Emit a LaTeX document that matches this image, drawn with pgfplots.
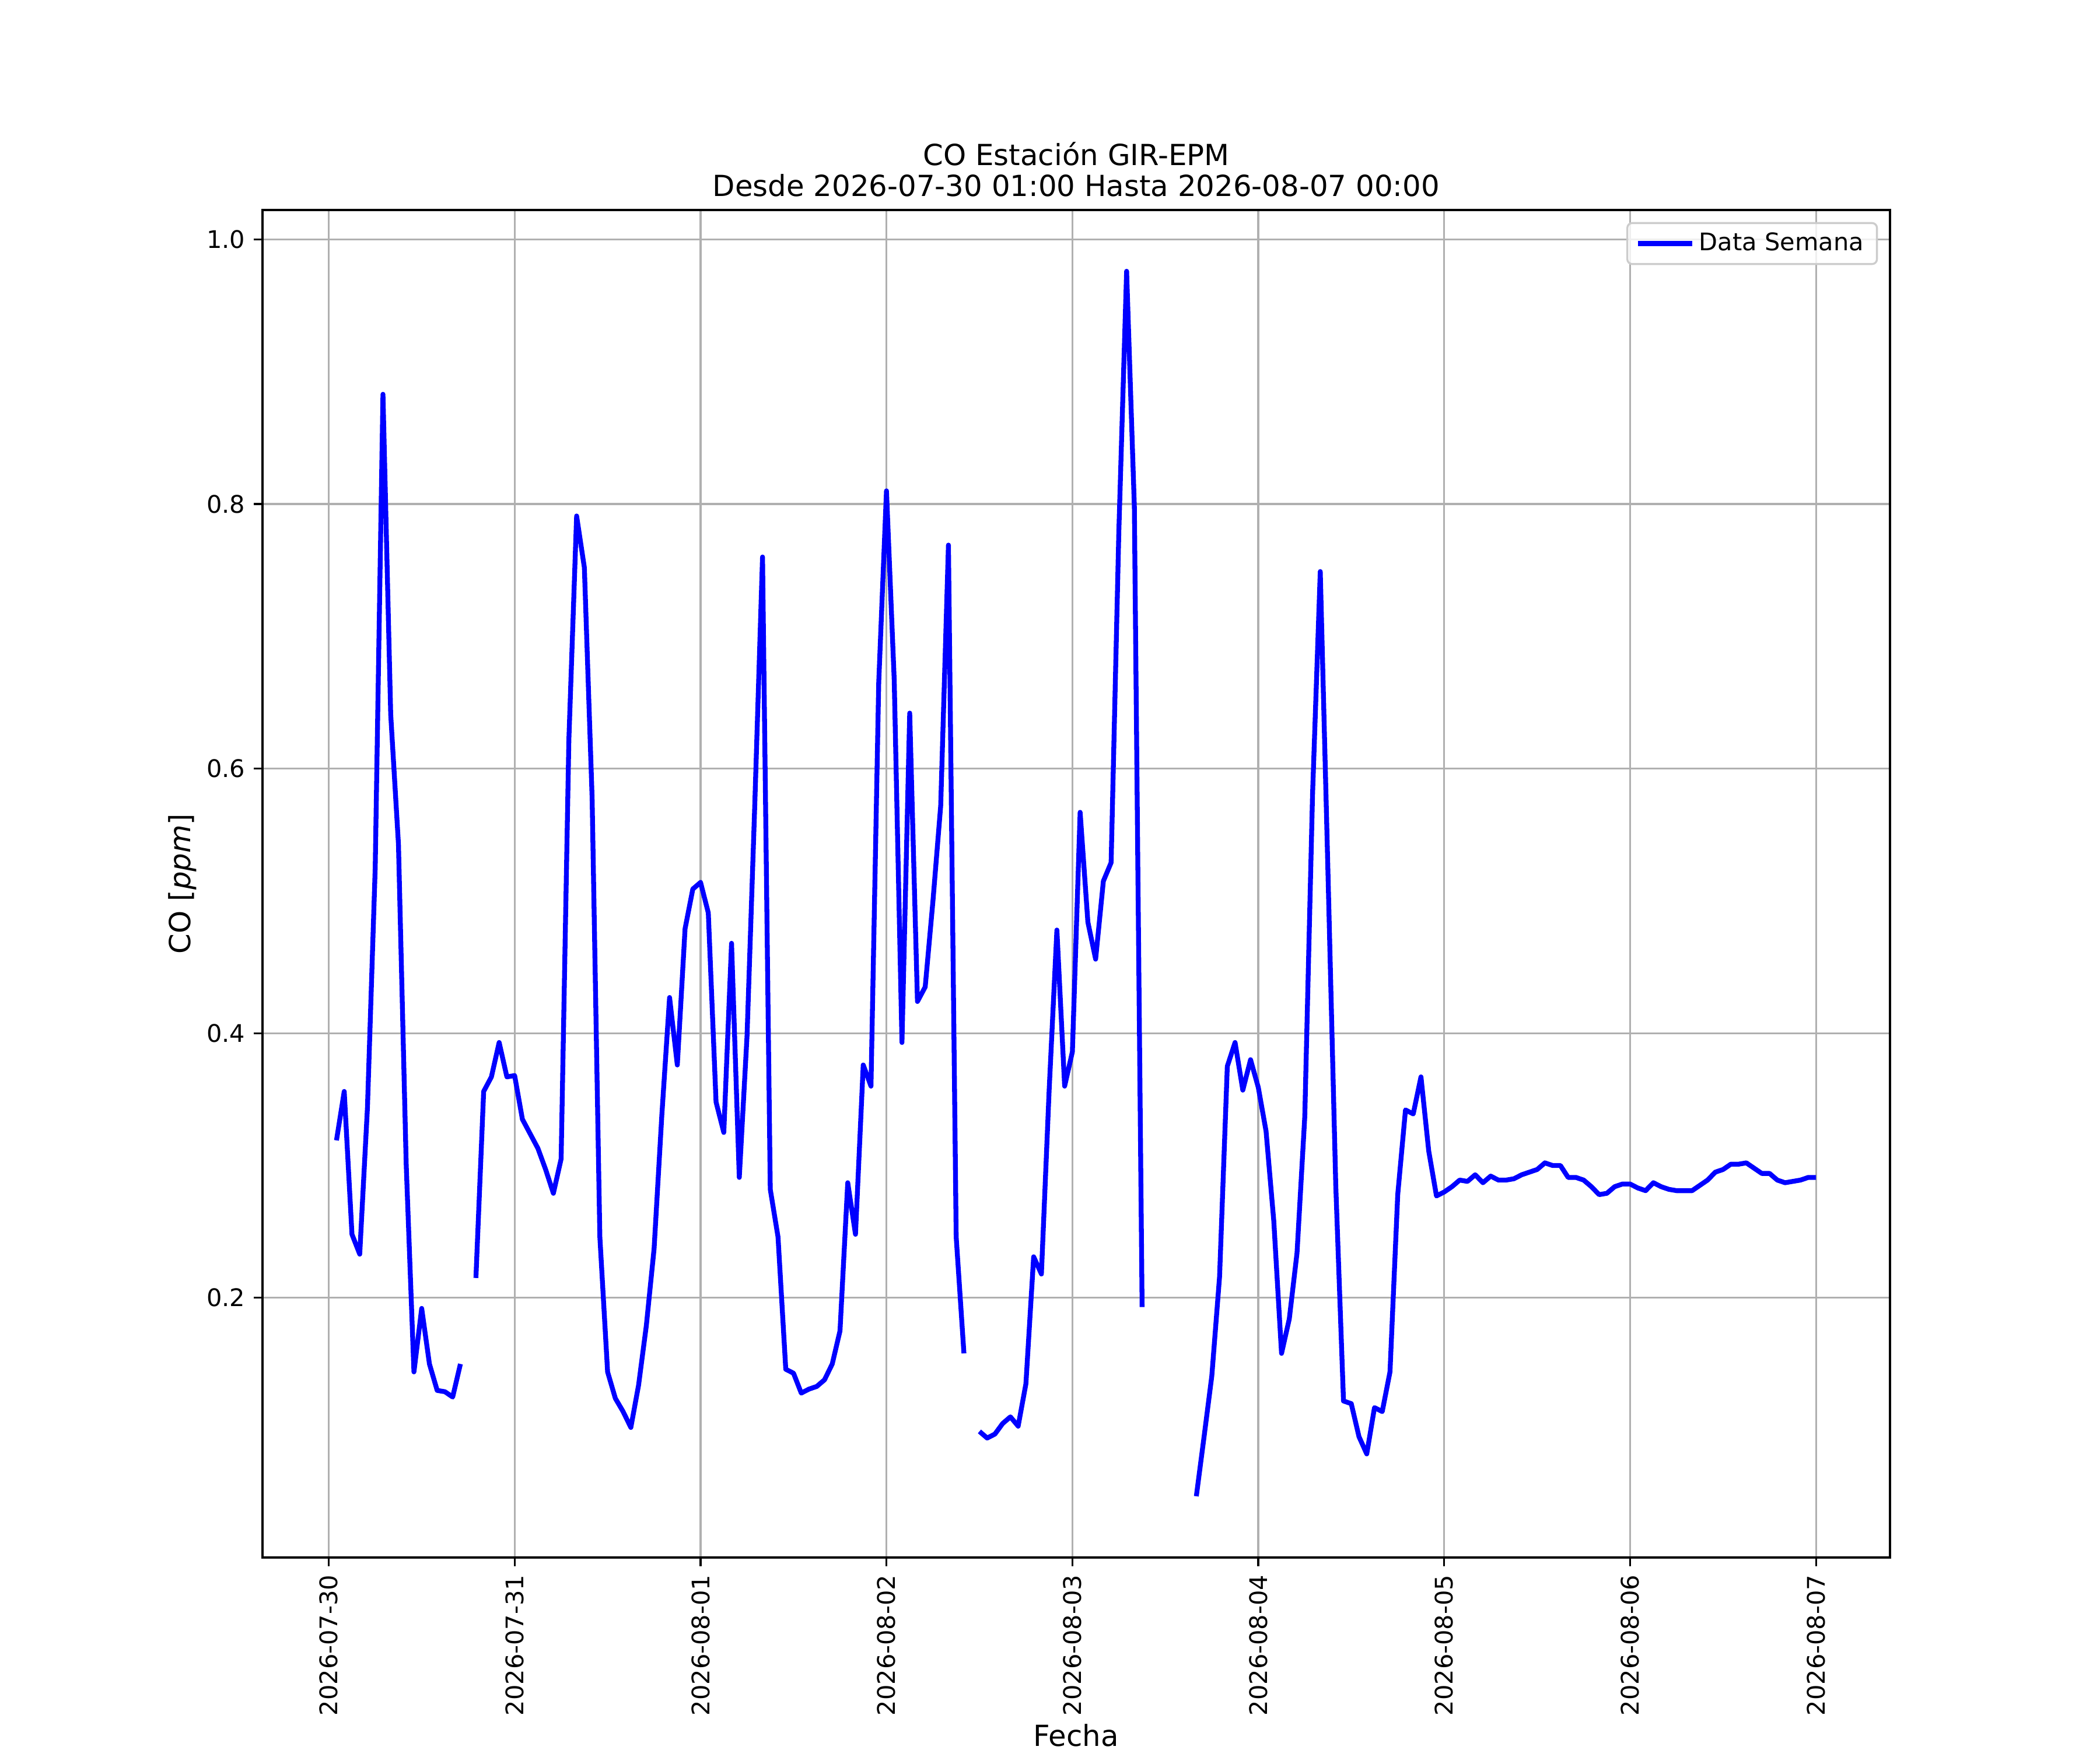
\documentclass[border=0pt]{standalone}
\usepackage{pgfplots}
\pgfplotsset{compat=1.18}
\usepackage{fontspec}
\setmainfont{DejaVu Sans}
\definecolor{gridgray}{RGB}{176,176,176}
\definecolor{legframe}{RGB}{204,204,204}
\begin{document}
\fontsize{10}{12}\selectfont
\begin{tikzpicture}
\fill[white] (0,0) rectangle (12in,10in);
\path[use as bounding box] (0,0) rectangle (12in,10in);
\begin{axis}[
  at={(1.5in,1.1in)}, anchor=south west,
  scale only axis, width=9.3in, height=7.7in,
  xmin=-8.55, xmax=201.55, ymin=0.0037, ymax=1.0223,
  unbounded coords=jump,
  axis line style={line width=0.8pt, black},
  xtick={0,24,48,72,96,120,144,168,192},
  xticklabels={2026-07-30,2026-07-31,2026-08-01,2026-08-02,2026-08-03,2026-08-04,2026-08-05,2026-08-06,2026-08-07},
  ytick={0.2,0.4,0.6,0.8,1.0},
  yticklabels={0.2,0.4,0.6,0.8,1.0},
  xtick pos=bottom, ytick pos=left,
  tick align=outside,
  major tick length=3.5pt,
  tick style={line width=0.8pt, black},
  xticklabel style={rotate=90, anchor=east, font=\fontsize{10}{12}\selectfont, inner sep=3.5pt},
  yticklabel style={font=\fontsize{10}{12}\selectfont, inner sep=3.5pt},
  grid=major,
  major grid style={line width=0.8pt, gridgray},
  xlabel={Fecha},
  ylabel={CO [{\itshape ppm}]},
  label style={font=\fontsize{12}{14}\selectfont},
  xlabel style={yshift=3.5pt},
  ylabel style={yshift=-3pt},
  title={CO Estación GIR-EPM\\Desde 2026-07-30 01:00 Hasta 2026-08-07 00:00},
  title style={align=center, font=\fontsize{12}{12.7}\selectfont, yshift=-4pt},
  legend style={at={(rel axis cs:1,1)}, anchor=north east, xshift=-5pt, yshift=-5pt,
    draw=legframe, line width=0.8pt, rounded corners=2pt, fill=white, fill opacity=0.8, text opacity=1,
    font=\fontsize{10}{12}\selectfont, inner xsep=3.5pt, inner ysep=2pt},
  legend cell align=left,
  legend image code/.code={\draw[#1, line width=2pt] (0cm,0cm) -- (0.78cm,0cm);},
]
\addplot[blue, line width=2pt, line join=round] table {
x y
1 0.319
2 0.356
3 0.248
4 0.233
5 0.344
6 0.525
7 0.883
8 0.641
9 0.543
10 0.301
11 0.144
12 0.192
13 0.150
14 0.130
15 0.129
16 0.125
17 0.150
18 nan
19 0.215
20 0.356
21 0.367
22 0.393
23 0.367
24 0.368
25 0.335
26 0.324
27 0.313
28 0.297
29 0.279
30 0.305
31 0.622
32 0.791
33 0.752
34 0.578
35 0.246
36 0.144
37 0.124
38 0.114
39 0.102
40 0.134
41 0.179
42 0.237
43 0.338
44 0.427
45 0.376
46 0.479
47 0.509
48 0.514
49 0.491
50 0.348
51 0.325
52 0.468
53 0.291
54 0.398
55 0.573
56 0.760
57 0.282
58 0.246
59 0.146
60 0.143
61 0.128
62 0.131
63 0.133
64 0.138
65 0.150
66 0.175
67 0.287
68 0.248
69 0.376
70 0.360
71 0.665
72 0.810
73 0.667
74 0.393
75 0.642
76 0.424
77 0.435
78 0.500
79 0.572
80 0.769
81 0.246
82 0.158
83 nan
84 0.099
85 0.094
86 0.097
87 0.105
88 0.110
89 0.103
90 0.135
91 0.231
92 0.218
93 0.357
94 0.478
95 0.360
96 0.386
97 0.567
98 0.484
99 0.456
100 0.515
101 0.529
102 0.780
103 0.976
104 0.798
105 0.193
106 nan
112 0.050
113 0.095
114 0.141
115 0.216
116 0.375
117 0.393
118 0.357
119 0.380
120 0.359
121 0.326
122 0.258
123 0.158
124 0.184
125 0.234
126 0.337
127 0.580
128 0.749
129 0.520
130 0.285
131 0.122
132 0.120
133 0.095
134 0.082
135 0.117
136 0.114
137 0.144
138 0.278
139 0.342
140 0.339
141 0.367
142 0.311
143 0.277
144 0.280
145 0.284
146 0.289
147 0.288
148 0.293
149 0.287
150 0.292
151 0.289
152 0.289
153 0.290
154 0.293
155 0.295
156 0.297
157 0.302
158 0.300
159 0.300
160 0.291
161 0.291
162 0.289
163 0.284
164 0.278
165 0.279
166 0.284
167 0.286
168 0.286
169 0.283
170 0.281
171 0.287
172 0.284
173 0.282
174 0.281
175 0.281
176 0.281
177 0.285
178 0.289
179 0.295
180 0.297
181 0.301
182 0.301
183 0.302
184 0.298
185 0.294
186 0.294
187 0.289
188 0.287
189 0.288
190 0.289
191 0.291
192 0.291
};
\addlegendentry{Data Semana}
\end{axis}
\end{tikzpicture}
\end{document}
